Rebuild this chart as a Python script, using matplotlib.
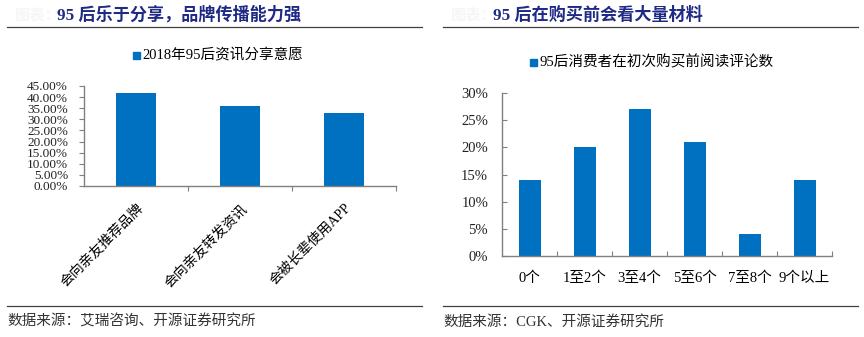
import matplotlib.pyplot as plt
import numpy as np

plt.rcParams['font.family'] = ['Liberation Serif', 'Noto Sans CJK SC']
plt.rcParams['axes.unicode_minus'] = False

# 左图数据
left_title = '95 后乐于分享，品牌传播能力强'
left_legend = '2018年95后资讯分享意愿'
left_cats = ['会向亲友推荐品牌', '会向亲友转发资讯', '会被长辈使用APP']
left_vals = [0.42, 0.36, 0.33]
left_source = '数据来源：艾瑞咨询、开源证券研究所'

# 右图数据
right_title = '95 后在购买前会看大量材料'
right_legend = '95后消费者在初次购买前阅读评论数'
right_cats = ['0个', '1至2个', '3至4个', '5至6个', '7至8个', '9个以上']
right_vals = [0.14, 0.20, 0.27, 0.21, 0.04, 0.14]
right_source = '数据来源：CGK、开源证券研究所'

W, H = 864, 337
bar_color = '#0070C0'
axis_color = '#808080'
title_color = '#1F2A84'

fig = plt.figure(figsize=(W / 100, H / 100), dpi=100)


def px(x, y):
    return x / W, 1 - y / H


def frame(x0, x1, title, source):
    # 标题、分隔线、资料来源
    fig.text(*px(x0 + 8, 15), '图表：', fontsize=11, color='#f6f6f6',
             fontweight='bold', va='center')
    fig.text(*px(x0 + 50, 15), title, fontsize=12.3, color=title_color,
             fontweight='bold', va='center')
    for y in (27, 306):
        fig.add_artist(plt.Line2D([x0 / W, x1 / W], [1 - y / H, 1 - y / H],
                                  color='#404040', lw=0.9))
    fig.text(*px(x0, 322), source, fontsize=10.5, color='#333333', va='center')


def style_axes(ax):
    for s in ('top', 'right'):
        ax.spines[s].set_visible(False)
    for s in ('left', 'bottom'):
        ax.spines[s].set_color(axis_color)
        ax.spines[s].set_linewidth(1.0)
    ax.tick_params(colors=axis_color, labelcolor='#222222', length=3.5)


# ---- 左图 ----
frame(7, 422, left_title, left_source)
ax1 = fig.add_axes([84 / W, 1 - 186 / H, 312 / W, 100 / H])
x1 = np.arange(len(left_cats))
ax1.bar(x1, left_vals, width=0.39, color=bar_color)
ax1.set_xlim(-0.5, len(left_cats) - 0.5)
ax1.set_ylim(0, 0.45)
yt1 = np.arange(0, 0.451, 0.05)
ax1.set_yticks(yt1)
ax1.set_yticklabels(['%.2f%%' % (v * 100) for v in yt1], fontsize=9.5)
ax1.set_xticks(np.arange(0.5, len(left_cats), 1.0))
ax1.set_xticks(x1, minor=True)
ax1.set_xticklabels([])
ax1.set_xticklabels(left_cats, minor=True, rotation=45, ha='right',
                    rotation_mode='anchor', fontsize=10)
style_axes(ax1)
ax1.tick_params(axis='y', pad=8)
ax1.tick_params(axis='x', which='minor', length=0, pad=11)
for lab in ax1.get_xticklabels(minor=True):
    lab.set_va('top')
fig.patches.append(plt.Rectangle(px(133, 59), 7 / W, 7 / H, color=bar_color,
                                 transform=fig.transFigure))
fig.text(*px(142, 55), left_legend, fontsize=10.5, va='center')

# ---- 右图 ----
frame(443, 858, right_title, right_source)
ax2 = fig.add_axes([502 / W, 1 - 256 / H, 330 / W, 163 / H])
x2 = np.arange(len(right_cats))
ax2.bar(x2, right_vals, width=0.4, color=bar_color)
ax2.set_xlim(-0.5, len(right_cats) - 0.5)
ax2.set_ylim(0, 0.30)
yt2 = np.arange(0, 0.301, 0.05)
ax2.set_yticks(yt2)
ax2.set_yticklabels(['%d%%' % round(v * 100) for v in yt2], fontsize=10.5)
ax2.set_xticks(np.arange(0.5, len(right_cats), 1.0))
ax2.set_xticks(x2, minor=True)
ax2.set_xticklabels([])
ax2.set_xticklabels(right_cats, minor=True, fontsize=10.5)
style_axes(ax2)
ax2.tick_params(axis='both', which='major', direction='in')
ax2.tick_params(axis='y', pad=10)
ax2.tick_params(axis='x', which='minor', length=0, pad=11)
fig.patches.append(plt.Rectangle(px(530, 66), 7 / W, 7 / H, color=bar_color,
                                 transform=fig.transFigure))
fig.text(*px(539, 62), right_legend, fontsize=10.5, va='center')

fig.savefig('out.png', dpi=100)
